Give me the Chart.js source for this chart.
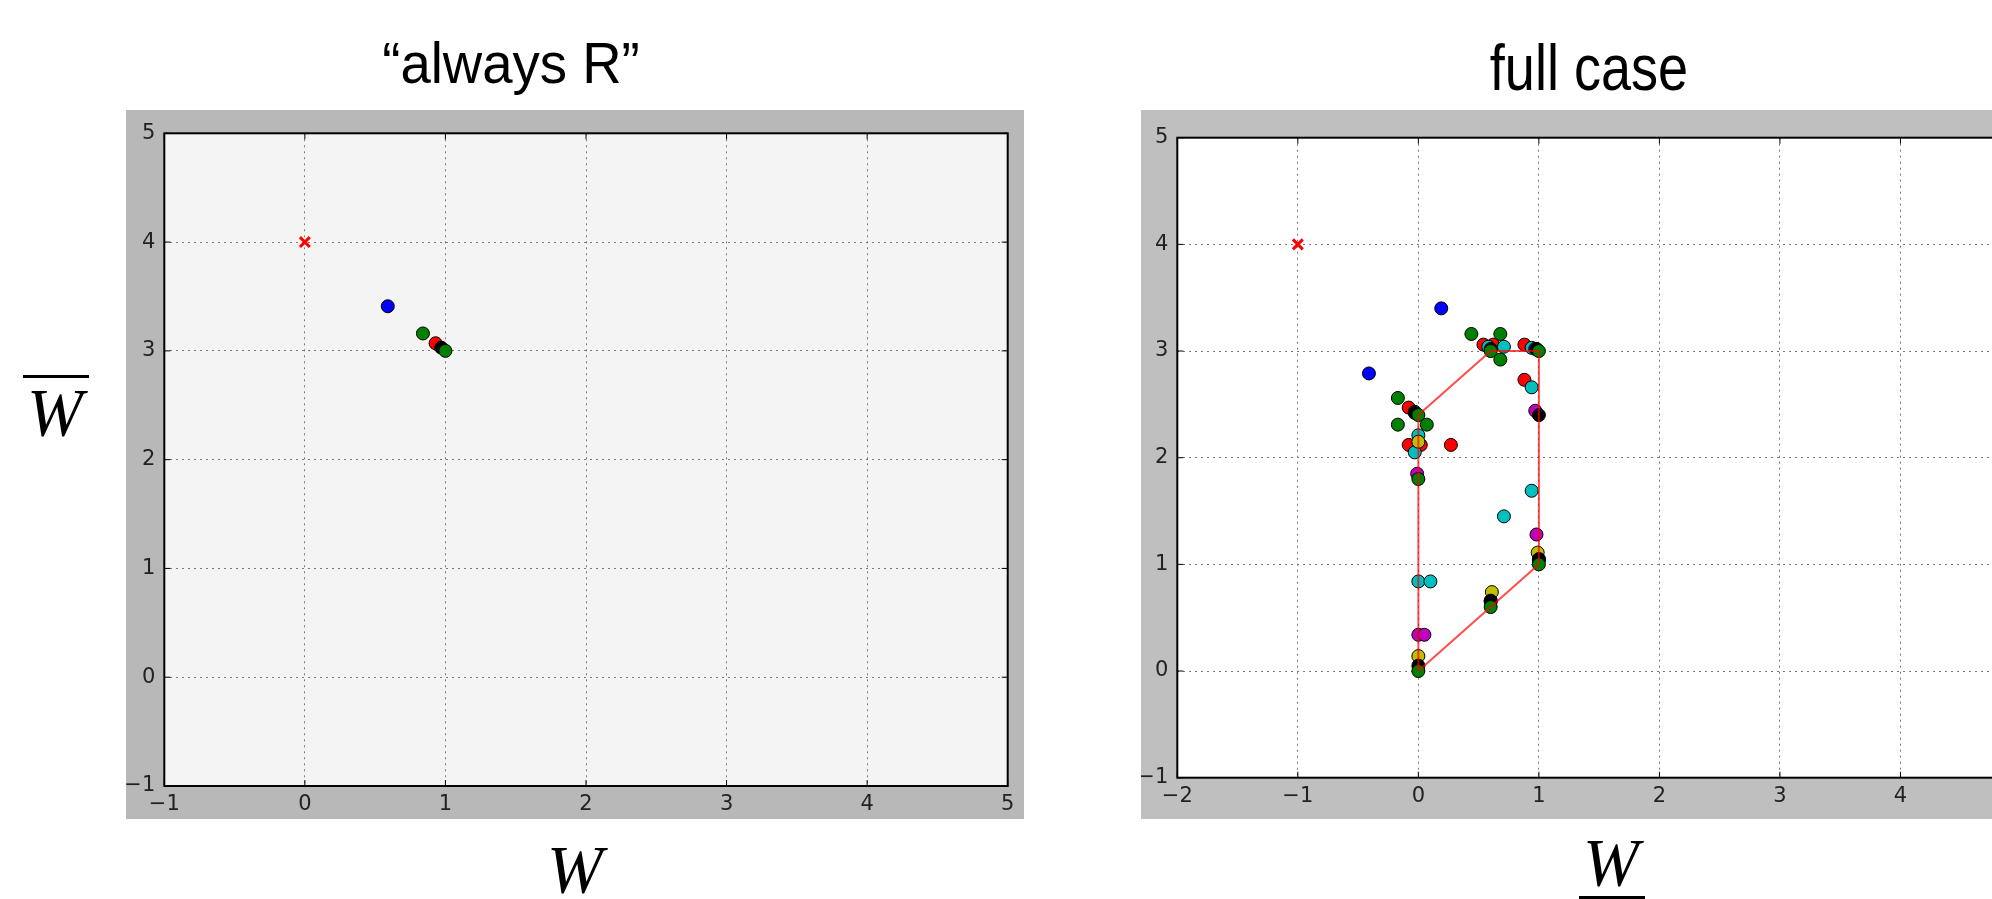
<!DOCTYPE html>
<html>
<head>
<meta charset="utf-8">
<script src="https://cdn.jsdelivr.net/npm/chart.js@4.4.1/dist/chart.umd.min.js"></script>
<style>
  html, body { margin: 0; padding: 0; background: #fff; width: 1992px; height: 899px; overflow: hidden; position: relative; }
  canvas { position: absolute; }
  .title { position: absolute; font-family: "Liberation Sans", Arial, sans-serif; line-height: 1; white-space: nowrap; color: #000; transform-origin: center; }
  .math { position: absolute; font-family: "Liberation Serif", "DejaVu Serif", serif; font-style: italic; line-height: 1; color: #000; white-space: nowrap; }
  .bar { position: absolute; background: #000; }
</style>
</head>
<body>
<div class="title" style="left:511px; top:34px; font-size:58px; transform:translateX(-50%) scaleX(0.94);">“always R”</div>
<div class="title" style="left:1589px; top:36px; font-size:64px; transform:translateX(-50%) scaleX(0.845);">full case</div>

<canvas id="leftChart" width="898" height="709" style="left:126px; top:110px; background:#b8b8b8;"></canvas>
<canvas id="rightChart" width="897" height="709" style="left:1141px; top:110px; background:#bfbfbf;"></canvas>

<div class="bar" style="left:23px; top:375px; width:66px; height:3px;"></div>
<div class="math" style="left:55px; top:379px; font-size:67px; transform:translateX(-50%);">W</div>
<div class="math" style="left:575px; top:836px; font-size:67px; transform:translateX(-50%);">W</div>
<div class="math" style="left:1611px; top:829px; font-size:67px; transform:translateX(-50%);">W</div>
<div class="bar" style="left:1579px; top:896px; width:66px; height:3px;"></div>

<script>
// tick values and labels
const leftXTicks = [-1, 0, 1, 2, 3, 4, 5];
const leftXLabels = ["\u22121", "0", "1", "2", "3", "4", "5"];
const rightXTicks = [-2, -1, 0, 1, 2, 3, 4, 5];
const rightXLabels = ["\u22122", "\u22121", "0", "1", "2", "3", "4", "5"];
const yTicks = [-1, 0, 1, 2, 3, 4, 5];
const yLabels = ["\u22121", "0", "1", "2", "3", "4", "5"];

// "always R" points [W, Wbar]
const leftStart = [[0, 4]];
const leftBlue = [[0.59, 3.41]];
const leftGreen = [[0.84, 3.16], [1.0, 3.0]];
const leftRed = [[0.93, 3.07]];
const leftBlack = [[0.97, 3.03]];

// full case points
const rightStart = [[-1, 4]];
const rightBlue = [[0.19, 3.4], [-0.41, 2.79], [1.0, 1.04], [0.6, 0.65]];
const rightRed = [[-0.08, 2.47], [-0.08, 2.12], [0.02, 2.12], [0.27, 2.12], [0.54, 3.06], [0.62, 3.06], [0.88, 3.06], [0.88, 2.73]];
const rightCyan = [[0.58, 3.04], [0.71, 3.04], [0.94, 3.03], [0.94, 2.66], [-0.03, 2.43], [0.0, 2.21], [-0.03, 2.05], [0.94, 1.69], [0.71, 1.45], [0.0, 0.84], [0.1, 0.84]];
const rightMagenta = [[0.97, 3.02], [0.97, 2.44], [-0.01, 1.85], [0.98, 1.28], [0.0, 0.34], [0.05, 0.34]];
const rightYellow = [[0.0, 2.15], [0.99, 1.11], [0.61, 0.74], [0.0, 0.14]];
const rightBlack = [[0.98, 3.02], [0.6, 3.02], [-0.03, 2.42], [1.0, 2.4], [1.0, 1.05], [0.6, 0.66], [0.0, 0.05]];
const rightGreen = [[0.44, 3.16], [0.68, 3.16], [0.6, 3.0], [0.68, 2.92], [1.0, 3.0], [-0.17, 2.56], [0.0, 2.4], [-0.17, 2.31], [0.07, 2.31], [0.0, 1.8], [1.0, 1.0], [0.6, 0.6], [0.0, 0.0]];
const rightHull = [[0, 0], [0, 2.4], [0.6, 3.0], [1.0, 3.0], [1.0, 1.0], [0, 0]];

const toXY = arr => arr.map(p => ({ x: p[0], y: p[1] }));

function dots(arr, color) {
    return {
        data: toXY(arr),
        pointStyle: "circle",
        pointRadius: 6.5,
        pointHoverRadius: 6.5,
        pointBorderWidth: 1,
        pointBorderColor: "#000",
        pointBackgroundColor: color
    };
}

function cross(arr) {
    return {
        data: toXY(arr),
        pointStyle: "crossRot",
        pointRadius: 7,
        pointHoverRadius: 7,
        pointBorderWidth: 3,
        pointBorderColor: "#ff0000"
    };
}

// plot background, black frame and inward tick marks like matplotlib
const framePlugin = {
    id: "frame",
    beforeDraw(chart, args, opts) {
        const a = chart.chartArea;
        const ctx = chart.ctx;
        ctx.save();
        ctx.fillStyle = opts.bg;
        ctx.fillRect(a.left, a.top, a.right - a.left, a.bottom - a.top);
        ctx.restore();
    },
    afterDraw(chart) {
        const a = chart.chartArea;
        const ctx = chart.ctx;
        ctx.save();
        ctx.strokeStyle = "#000";
        ctx.lineWidth = 1;
        ctx.beginPath();
        chart.scales.x.ticks.forEach(t => {
            const px = chart.scales.x.getPixelForValue(t.value);
            ctx.moveTo(px, a.bottom); ctx.lineTo(px, a.bottom - 6);
            ctx.moveTo(px, a.top); ctx.lineTo(px, a.top + 6);
        });
        chart.scales.y.ticks.forEach(t => {
            const py = chart.scales.y.getPixelForValue(t.value);
            ctx.moveTo(a.left, py); ctx.lineTo(a.left + 6, py);
            ctx.moveTo(a.right, py); ctx.lineTo(a.right - 6, py);
        });
        ctx.stroke();
        ctx.lineWidth = 2;
        ctx.strokeRect(a.left, a.top, a.right - a.left, a.bottom - a.top);
        ctx.restore();
    }
};

function axis(min, max, ticks, labels, fit, padding) {
    return {
        type: "linear",
        min: min,
        max: max,
        afterFit: fit,
        grid: { color: "#7a7a7a", lineWidth: 1, drawTicks: false },
        border: { display: false, dash: [2, 4] },
        ticks: {
            stepSize: 1,
            autoSkip: false,
            maxRotation: 0,
            padding: padding,
            color: "#222",
            font: { family: "DejaVu Sans", size: 21 },
            callback: v => labels[ticks.indexOf(v)]
        }
    };
}

function makeChart(id, datasets, cfg) {
    return new Chart(document.getElementById(id), {
        type: "scatter",
        data: { datasets: datasets },
        options: {
            responsive: false,
            animation: false,
            devicePixelRatio: 1,
            layout: { padding: { top: cfg.top, right: cfg.right, left: 0, bottom: 0 } },
            plugins: {
                legend: { display: false },
                tooltip: { enabled: false },
                frame: { bg: cfg.bg }
            },
            scales: {
                x: axis(cfg.xMin, 5, cfg.xTicks, cfg.xLabels, s => { s.height = cfg.xSize; }, 6),
                y: axis(-1, 5, yTicks, yLabels, s => { s.width = cfg.ySize; }, 9)
            }
        },
        plugins: [framePlugin]
    });
}

// first dataset is drawn on top
makeChart("leftChart", [
    dots(leftGreen, "#008000"),
    dots(leftBlack, "#000000"),
    dots(leftRed, "#ff0000"),
    dots(leftBlue, "#0000ff"),
    cross(leftStart)
], { top: 23.3, right: 16.3, xSize: 33, ySize: 38.3, bg: "#f4f4f4", xMin: -1, xTicks: leftXTicks, xLabels: leftXLabels });

makeChart("rightChart", [
    {
        data: toXY(rightHull),
        showLine: true,
        borderColor: "rgba(255, 0, 0, 0.7)",
        borderWidth: 2,
        pointRadius: 0,
        pointHoverRadius: 0,
        fill: false
    },
    dots(rightGreen, "#008000"),
    dots(rightBlack, "#000000"),
    dots(rightYellow, "#bfbf00"),
    dots(rightMagenta, "#bf00bf"),
    dots(rightCyan, "#00bfbf"),
    dots(rightRed, "#ff0000"),
    dots(rightBlue, "#0000ff"),
    cross(rightStart)
], { top: 27.7, right: 17, xSize: 41.3, ySize: 36.3, bg: "#ffffff", xMin: -2, xTicks: rightXTicks, xLabels: rightXLabels });
</script>
</body>
</html>
